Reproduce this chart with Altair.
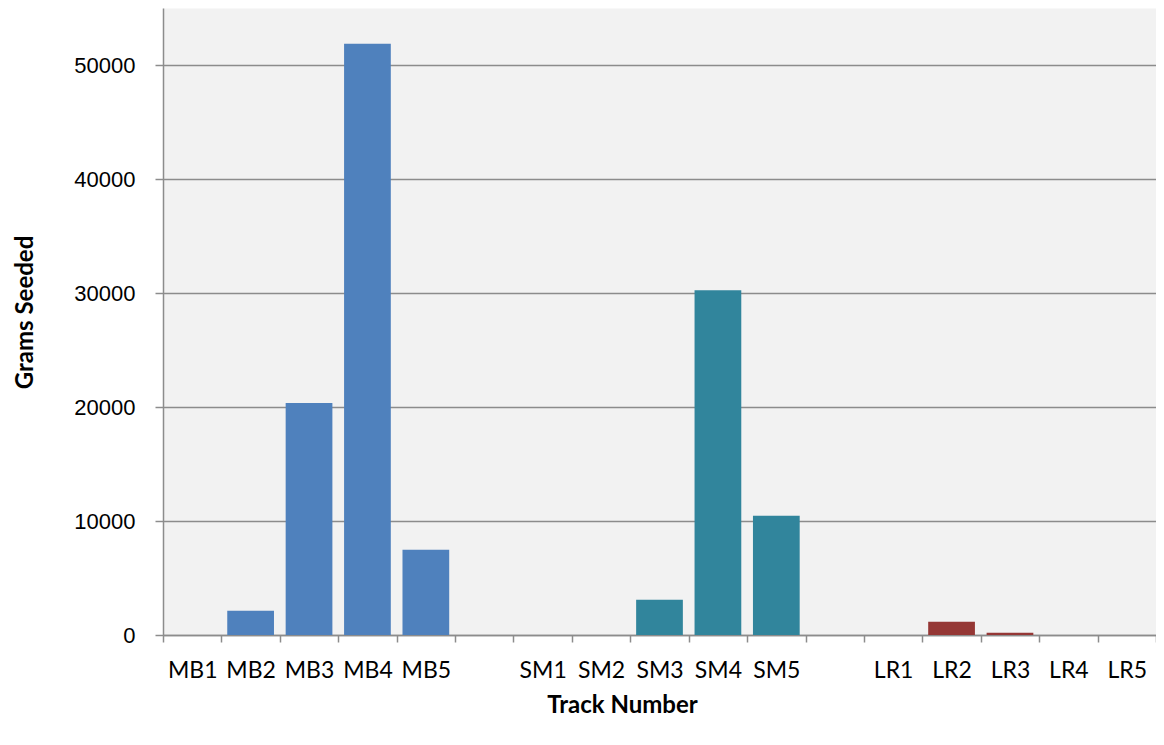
import altair as alt
import pandas as pd

# Category slots on the x axis (two unlabeled spacer slots between groups)
categories = ["MB1", "MB2", "MB3", "MB4", "MB5", "gap1",
              "SM1", "SM2", "SM3", "SM4", "SM5", "gap2",
              "LR1", "LR2", "LR3", "LR4", "LR5"]

tracks = ["MB1", "MB2", "MB3", "MB4", "MB5",
          "SM1", "SM2", "SM3", "SM4", "SM5",
          "LR1", "LR2", "LR3", "LR4", "LR5"]
grams = [0, 2130, 20350, 51870, 7470,
         0, 0, 3090, 30240, 10465,
         0, 1165, 200, 0, 0]
groups = ["MB", "MB", "MB", "MB", "MB",
          "SM", "SM", "SM", "SM", "SM",
          "LR", "LR", "LR", "LR", "LR"]

group_names = ["MB", "SM", "LR"]
group_colors = ["#4F81BD", "#31859C", "#953735"]

y_ticks = [0, 10000, 20000, 30000, 40000, 50000]

df = pd.DataFrame({"track": tracks, "grams": grams, "group": groups})

axis_gray = "#8c8c8c"

chart = alt.Chart(df).mark_bar(width=alt.RelativeBandSize(0.8)).encode(
    x=alt.X(
        "track:N",
        sort=categories,
        scale=alt.Scale(domain=categories, paddingInner=0, paddingOuter=0),
        axis=alt.Axis(
            title="Track Number",
            labelExpr="indexof(datum.label, 'gap') == 0 ? '' : datum.label",
            labelAngle=0,
            labelFont="Lato",
            labelFontSize=23,
            labelColor="#000000",
            labelPadding=17,
            tickBand="extent",
            tickSize=7,
            tickColor=axis_gray,
            tickWidth=1.5,
            domainColor=axis_gray,
            domainWidth=1.5,
            grid=False,
            titleFont="Lato",
            titleFontWeight="bold",
            titleFontSize=24,
            titleColor="#000000",
            titleX=459,
            titleY=70,
            titleBaseline="middle",
        ),
    ),
    y=alt.Y(
        "grams:Q",
        scale=alt.Scale(domain=[0, 55000], nice=False),
        axis=alt.Axis(
            title="Grams Seeded",
            values=y_ticks,
            format="d",
            labelFont="Liberation Sans",
            labelFontSize=22,
            labelColor="#000000",
            labelPadding=20,
            tickSize=8,
            tickColor=axis_gray,
            tickWidth=1.5,
            domainColor=axis_gray,
            domainWidth=1.5,
            grid=True,
            gridColor=axis_gray,
            gridWidth=1.5,
            titleFont="Lato",
            titleFontWeight="bold",
            titleFontSize=24,
            titleColor="#000000",
            titleX=-131,
            titleY=304,
            titleBaseline="alphabetic",
        ),
    ),
    color=alt.Color(
        "group:N",
        scale=alt.Scale(domain=group_names, range=group_colors),
        legend=None,
    ),
).properties(
    width=993,
    height=627,
    autosize=alt.AutoSizeParams(type="none"),
    padding={"left": 155, "top": 0, "right": 0, "bottom": 102},
    background="#ffffff",
).configure_view(
    fill="#F2F2F2",
    stroke="transparent",
)

chart.save("out.html", embed_options={"renderer": "svg", "actions": False})
